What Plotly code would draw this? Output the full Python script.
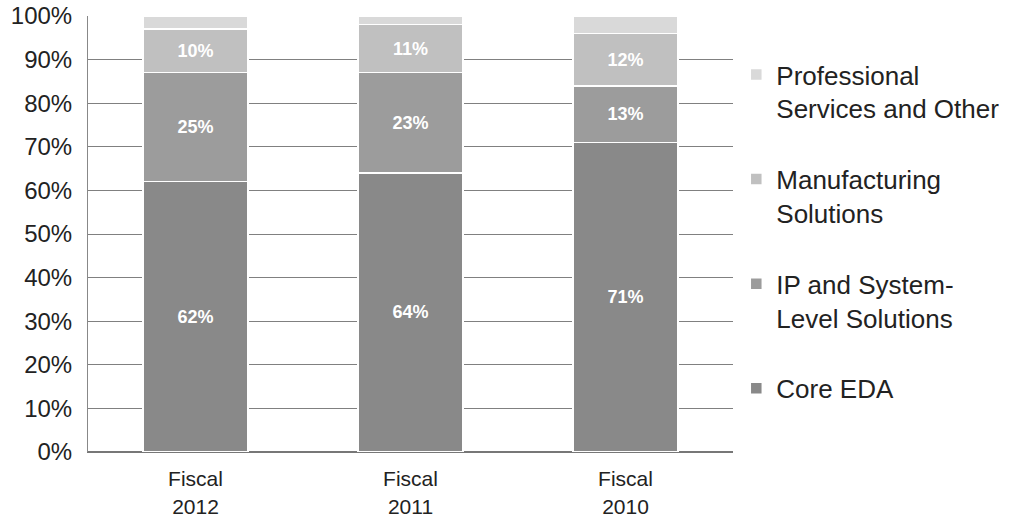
import plotly.graph_objects as go

categories = ["Fiscal<br>2012", "Fiscal<br>2011", "Fiscal<br>2010"]
core_eda = [62, 64, 71]
ip_system = [25, 23, 13]
manufacturing = [10, 11, 12]
professional = [3, 2, 4]

series = [
    ("Core EDA", core_eda, "#898989", True, 4),
    ("IP and System-<br>Level Solutions", ip_system, "#9c9c9c", True, 3),
    ("Manufacturing<br>Solutions", manufacturing, "#c0c0c0", True, 2),
    ("Professional<br>Services and Other", professional, "#d9d9d9", False, 1),
]

fig = go.Figure()
for i, (name, vals, color, labeled, rank) in enumerate(series):
    fig.add_trace(go.Bar(
        x=categories, y=vals, name=name,
        legendgroup=f"g{i}", legendrank=rank,
        marker=dict(color=color, line=dict(color="white", width=1.5)),
        text=[f"{v}%" for v in vals] if labeled else None,
        textposition="inside" if labeled else "none",
        insidetextanchor="middle",
        textfont=dict(color="white", size=18, family="Liberation Sans, Arial", weight="bold"),
        hoverinfo="x+y+name",
    ))

fig.update_layout(
    barmode="stack",
    bargap=0.51,
    width=1010, height=527,
    margin=dict(l=88, r=277, t=16, b=75, autoexpand=False),
    paper_bgcolor="white", plot_bgcolor="white",
    font=dict(family="Liberation Sans, Arial", color="#222222"),
    legend=dict(
        xref="container", yref="container",
        x=0.729, xanchor="left", y=0.903, yanchor="top",
        traceorder="grouped", tracegroupgap=34,
        font=dict(size=26, color="#222222"),
        valign="top", itemwidth=30, maxheight=1,
        bgcolor="rgba(0,0,0,0)",
    ),
    xaxis=dict(
        tickfont=dict(size=21, color="#222222"),
        showline=True, linecolor="#777777", linewidth=1,
        ticks="", ticklabelstandoff=8, automargin=False,
    ),
    yaxis=dict(
        range=[0, 100], dtick=10, ticksuffix="%",
        tickfont=dict(size=24, color="#222222"),
        showgrid=True, gridcolor="#808080", gridwidth=1,
        showline=True, linecolor="#888888", linewidth=1,
        zeroline=True, zerolinecolor="#777777",
        ticks="", ticklabelstandoff=10, automargin=False,
    ),
)

fig.write_html("out.html")
